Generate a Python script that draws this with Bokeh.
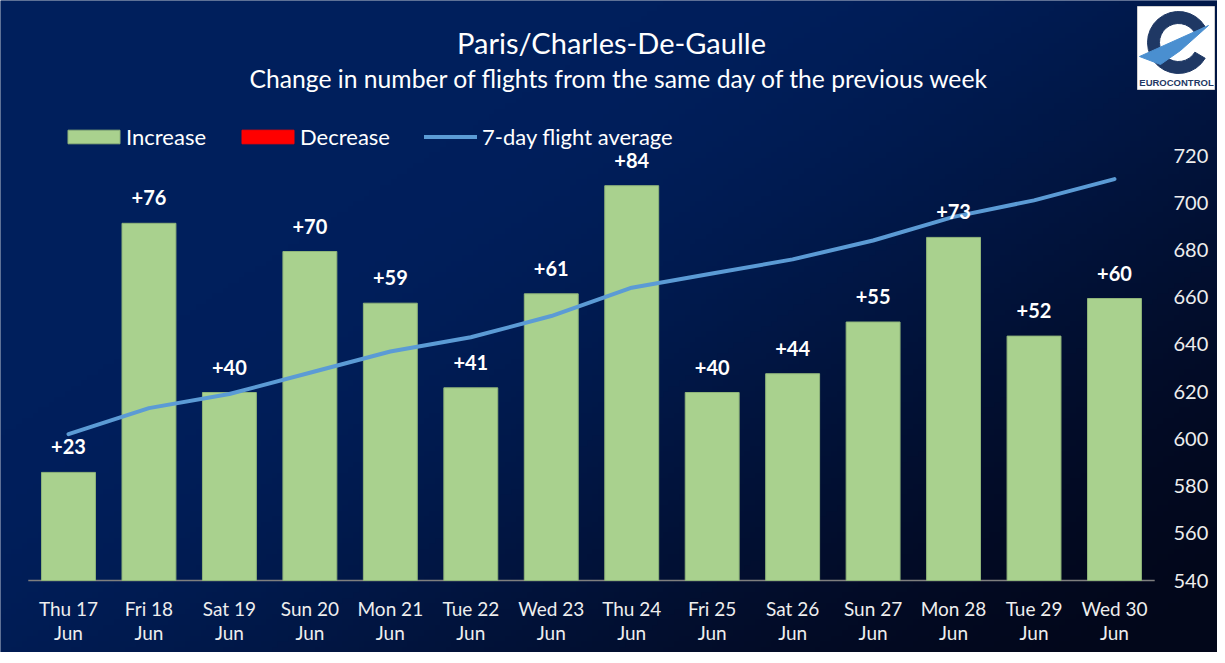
import numpy as np
from bokeh.plotting import figure
from bokeh.models import Range1d, Legend
from bokeh.core.properties import value
from bokeh.embed import file_html
from bokeh.resources import INLINE

# ---------------- data ----------------
days = ["Thu 17\nJun", "Fri 18\nJun", "Sat 19\nJun", "Sun 20\nJun", "Mon 21\nJun",
        "Tue 22\nJun", "Wed 23\nJun", "Thu 24\nJun", "Fri 25\nJun", "Sat 26\nJun",
        "Sun 27\nJun", "Mon 28\nJun", "Tue 29\nJun", "Wed 30\nJun"]
changes = [23, 76, 40, 70, 59, 41, 61, 84, 40, 44, 55, 73, 52, 60]
avg7 = [602, 613, 619, 628, 637, 643, 652, 664, 670, 676, 684, 694, 701, 710]
right_ticks = [540, 560, 580, 600, 620, 640, 660, 680, 700, 720]
title = "Paris/Charles-De-Gaulle"
subtitle = "Change in number of flights from the same day of the previous week"

increase = [c if c > 0 else np.nan for c in changes]
decrease = [c if c < 0 else np.nan for c in changes]

# ---------------- layout (page pixels) ----------------
W, H = 1217, 652
PAGE = 8
X0, DX = 76.0, 80.46          # page x of first category centre, category step
Y_BASE = 588.0                # page y of baseline (540 on right axis, 0 for bars)
PX_AVG = 425.0 / 180.0        # px per flight on the right axis
PX_BAR = 4.70                 # px per flight on the (hidden) bar axis
FONT = "Lato"


def dx(page_x):
    return (page_x - X0) / DX


def dy(page_y):
    return 540 + (Y_BASE - page_y) / PX_AVG


idx = list(range(len(days)))

p = figure(width=W, height=H, output_backend="svg", toolbar_location=None,
           x_range=Range1d(dx(PAGE), dx(PAGE + W)),
           y_range=Range1d(dy(PAGE + H), dy(PAGE)),
           x_axis_location=None, y_axis_location=None, min_border=0)
p.extra_y_ranges = {"bars": Range1d(-(PAGE + H - Y_BASE) / PX_BAR, (Y_BASE - PAGE) / PX_BAR)}
p.xgrid.grid_line_color = None
p.ygrid.grid_line_color = None
p.outline_line_color = None
p.background_fill_color = "#001d58"
p.border_fill_color = "#001d58"

# ---------------- gradient background ----------------
ny, nx = 120, 224
rr, cc = np.mgrid[0:ny, 0:nx]
u = cc / (nx - 1)
ftop = 1 - rr / (ny - 1)
t = 0.55 * u + 0.45 * ftop
s = np.clip((t - 0.30) / 0.70, 0, 1)
s = s * s * (3 - 2 * s)
c0 = np.array([0, 31, 92])
c1 = np.array([3, 7, 26])
img = np.empty((ny, nx), dtype=np.uint32)
view = img.view(dtype=np.uint8).reshape((ny, nx, 4))
for k in range(3):
    view[:, :, k] = (c0[k] + (c1[k] - c0[k]) * s).astype(np.uint8)
view[:, :, 3] = 255
p.image_rgba(image=[img], x=dx(PAGE), y=dy(PAGE + H),
             dw=dx(PAGE + W) - dx(PAGE), dh=dy(PAGE) - dy(PAGE + H), level="image")

# ---------------- baseline ----------------
p.segment(x0=[idx[0] - 0.5], x1=[idx[-1] + 0.5], y0=[right_ticks[0]], y1=[right_ticks[0]],
          line_color="#7f7f7f", line_width=1.5)

# ---------------- bars, line ----------------
inc = p.vbar(x=idx, top=increase, bottom=0, width=0.67, y_range_name="bars",
             fill_color="#a9d18e", line_color="#8fb47a", line_width=1)
dec = p.vbar(x=idx, top=decrease, bottom=0, width=0.67, y_range_name="bars",
             fill_color="#ff0000", line_color="#ff0000", line_width=1)
ln = p.line(idx, avg7, line_color="#5b9bd5", line_width=4, line_join="round", line_cap="round")

# data labels
p.text(x=idx, y=changes, text=[f"+{c}" if c > 0 else str(c) for c in changes],
       y_range_name="bars", text_align="center", text_baseline="bottom", y_offset=-18,
       text_font=value(FONT), text_font_style="bold", text_font_size="20px",
       text_color="white")

# right tick labels
p.text(x=[dx(1181)] * len(right_ticks), y=right_ticks, text=[str(t) for t in right_ticks],
       text_align="left", text_baseline="middle", text_font=value(FONT),
       text_font_size="20px", text_color="#eeeeee")

# category labels
p.text(x=idx, y=[right_ticks[0]] * len(idx), text=days, y_offset=16,
       text_align="center", text_baseline="top", text_font=value(FONT),
       text_font_size="19px", text_color="#eeeeee", text_line_height=1.08)

# titles
p.text(x=[dx(619)], y=[dy(50)], text=[title], text_align="center", text_baseline="middle",
       text_font=value(FONT), text_font_size="29px", text_color="white")
p.text(x=[dx(627)], y=[dy(86)], text=[subtitle], text_align="center", text_baseline="middle",
       text_font=value(FONT), text_font_size="24.7px", text_color="white")

# ---------------- logo ----------------
p.rect(x=[dx(1183.5)], y=[dy(55.5)], width=[77], height=[83],
       width_units="screen", height_units="screen",
       fill_color="white", line_color="#d0d0d0")
p.annular_wedge(x=[dx(1186)], y=[dy(50)], inner_radius=19, outer_radius=31,
                inner_radius_units="screen", outer_radius_units="screen",
                start_angle=0.55, end_angle=5.75, color="#1f3864")
p.patch(x=[dx(1147), dx(1216), dx(1188), dx(1168)],
        y=[dy(64), dy(33), dy(58), dy(72)], color="#4a8fd0")
p.text(x=[dx(1184)], y=[dy(90)], text=["EUROCONTROL"], text_align="center",
       text_baseline="middle", text_font=value("Liberation Sans"), text_font_style="bold",
       text_font_size="9.5px", text_color="#1f3864")

# ---------------- legend ----------------
common = dict(orientation="horizontal", label_standoff=0, spacing=29,
              padding=0, margin=0, label_text_font=FONT, label_text_font_size="22px",
              label_text_color="white", background_fill_alpha=0, border_line_alpha=0)
legend_bars = Legend(items=[("Increase", [inc]), ("Decrease", [dec])],
                     location=(61, 502), glyph_width=65, glyph_height=17, **common)
legend_line = Legend(items=[("7-day flight average", [ln])],
                     location=(424, 502), glyph_width=53, glyph_height=17, **common)
legend_line.label_standoff = 5
p.add_layout(legend_bars)
p.add_layout(legend_line)

open("out.html", "w").write(file_html(p, INLINE))
